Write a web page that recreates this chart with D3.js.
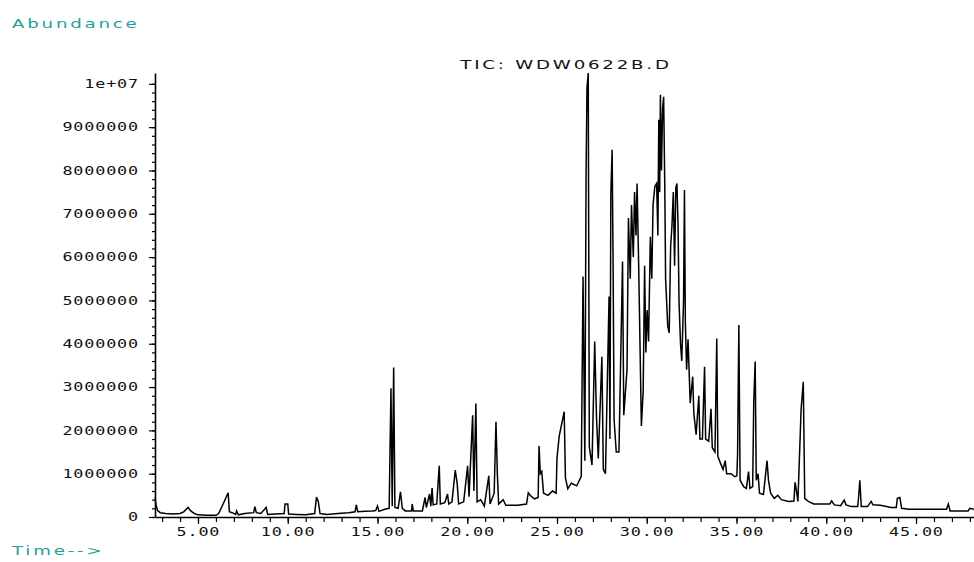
<!DOCTYPE html>
<html>
<head>
<meta charset="utf-8">
<script src="https://cdn.jsdelivr.net/npm/d3@7"></script>
<style>
  body { margin: 0; background: #fff; }
</style>
</head>
<body>
<div class="tic"></div>
<script>
const title = "TIC: WDW0622B.D"
const yTitle = "Abundance"
const xTitle = "Time-->"

const xMajorTicks = [5, 10, 15, 20, 25, 30, 35, 40, 45]
const xMinorTicks = d3.range(3, 49, 1)
const yMajorTicks = [0, 1e6, 2e6, 3e6, 4e6, 5e6, 6e6, 7e6, 8e6, 9e6, 1e7]
const yMinorTicks = d3.range(0, 1.02e7, 2e5)

// retention time (min), abundance
const ticTrace = [
  [2.61, 0.45e6], [2.65, 0.30e6], [2.75, 0.15e6], [2.90, 0.10e6], [3.20, 0.08e6], [3.60, 0.07e6],
  [4.00, 0.08e6], [4.20, 0.12e6], [4.45, 0.22e6], [4.60, 0.14e6], [4.80, 0.08e6], [5.00, 0.05e6],
  [5.50, 0.04e6], [6.00, 0.04e6], [6.15, 0.08e6], [6.40, 0.30e6], [6.68, 0.56e6], [6.75, 0.12e6],
  [6.90, 0.10e6], [7.10, 0.06e6], [7.15, 0.14e6], [7.25, 0.05e6], [7.60, 0.08e6], [8.10, 0.10e6],
  [8.17, 0.24e6], [8.25, 0.10e6], [8.50, 0.08e6], [8.80, 0.22e6], [8.88, 0.06e6], [9.30, 0.07e6],
  [9.80, 0.08e6], [9.85, 0.30e6], [10.00, 0.30e6], [10.05, 0.07e6], [10.50, 0.06e6], [11.00, 0.05e6],
  [11.50, 0.08e6], [11.60, 0.46e6], [11.70, 0.36e6], [11.80, 0.08e6], [12.20, 0.06e6], [12.80, 0.08e6],
  [13.40, 0.10e6], [13.75, 0.12e6], [13.82, 0.28e6], [13.90, 0.12e6], [14.30, 0.13e6], [14.70, 0.14e6],
  [14.90, 0.15e6], [15.00, 0.25e6], [15.08, 0.13e6], [15.40, 0.18e6], [15.65, 0.20e6], [15.75, 2.97e6],
  [15.82, 0.25e6], [15.90, 3.45e6], [15.97, 0.22e6], [16.15, 0.20e6], [16.28, 0.58e6], [16.38, 0.20e6],
  [16.55, 0.14e6], [16.90, 0.14e6], [16.93, 0.30e6], [17.00, 0.14e6], [17.50, 0.14e6], [17.65, 0.45e6],
  [17.72, 0.22e6], [17.90, 0.53e6], [17.97, 0.25e6], [18.04, 0.67e6], [18.10, 0.28e6], [18.30, 0.30e6],
  [18.44, 1.18e6], [18.50, 0.30e6], [18.75, 0.33e6], [18.90, 0.53e6], [18.97, 0.30e6], [19.15, 0.35e6],
  [19.33, 1.08e6], [19.44, 0.77e6], [19.52, 0.30e6], [19.80, 0.35e6], [20.02, 1.18e6], [20.10, 0.47e6],
  [20.30, 2.35e6], [20.37, 0.60e6], [20.48, 2.62e6], [20.55, 0.35e6], [20.75, 0.40e6], [20.95, 0.25e6],
  [21.20, 0.95e6], [21.27, 0.30e6], [21.50, 0.55e6], [21.60, 2.20e6], [21.68, 0.95e6], [21.75, 0.30e6],
  [22.00, 0.40e6], [22.15, 0.27e6], [22.80, 0.27e6], [23.30, 0.30e6], [23.40, 0.56e6], [23.55, 0.48e6],
  [23.75, 0.42e6], [23.95, 0.45e6], [24.00, 1.64e6], [24.07, 1.00e6], [24.15, 1.05e6], [24.25, 0.55e6],
  [24.50, 0.50e6], [24.75, 0.60e6], [24.95, 0.55e6], [25.00, 1.36e6], [25.12, 1.86e6], [25.40, 2.43e6],
  [25.47, 0.90e6], [25.60, 0.65e6], [25.80, 0.78e6], [26.10, 0.72e6], [26.35, 0.94e6], [26.45, 5.55e6],
  [26.55, 1.30e6], [26.62, 7.94e6], [26.67, 9.90e6], [26.74, 10.25e6], [26.80, 1.62e6], [26.95, 1.20e6],
  [27.10, 4.05e6], [27.20, 2.30e6], [27.30, 1.35e6], [27.50, 3.70e6], [27.58, 1.10e6], [27.70, 1.00e6],
  [27.90, 5.09e6], [27.95, 1.80e6], [28.00, 7.47e6], [28.07, 8.48e6], [28.12, 6.10e6], [28.18, 2.25e6],
  [28.30, 1.50e6], [28.45, 1.50e6], [28.65, 5.90e6], [28.72, 2.35e6], [28.90, 3.40e6], [28.98, 6.90e6],
  [29.08, 5.50e6], [29.15, 7.20e6], [29.25, 6.00e6], [29.32, 7.50e6], [29.40, 6.50e6], [29.46, 7.70e6],
  [29.55, 5.80e6], [29.70, 2.10e6], [29.80, 2.90e6], [29.88, 5.80e6], [29.95, 3.80e6], [30.02, 4.78e6],
  [30.10, 4.05e6], [30.20, 6.47e6], [30.28, 5.50e6], [30.35, 7.20e6], [30.45, 7.63e6], [30.55, 7.70e6],
  [30.62, 6.50e6], [30.67, 9.17e6], [30.72, 7.50e6], [30.76, 9.75e6], [30.82, 8.00e6], [30.88, 9.40e6],
  [30.94, 9.70e6], [31.00, 7.78e6], [31.05, 5.50e6], [31.17, 4.40e6], [31.25, 4.25e6], [31.33, 6.24e6],
  [31.40, 6.70e6], [31.48, 7.50e6], [31.55, 5.80e6], [31.62, 7.60e6], [31.68, 7.70e6], [31.74, 6.80e6],
  [31.80, 4.94e6], [31.88, 4.00e6], [31.95, 3.60e6], [32.05, 5.00e6], [32.10, 7.55e6], [32.15, 4.50e6],
  [32.22, 3.40e6], [32.30, 4.10e6], [32.42, 2.63e6], [32.56, 3.24e6], [32.62, 2.40e6], [32.75, 1.90e6],
  [32.90, 2.80e6], [32.96, 1.80e6], [33.10, 1.80e6], [33.22, 3.47e6], [33.28, 1.80e6], [33.45, 1.75e6],
  [33.58, 2.50e6], [33.65, 1.60e6], [33.80, 1.50e6], [33.90, 4.12e6], [33.96, 1.40e6], [34.10, 1.25e6],
  [34.25, 1.10e6], [34.37, 1.30e6], [34.45, 1.00e6], [34.70, 1.00e6], [34.90, 0.93e6], [35.02, 0.95e6],
  [35.06, 1.46e6], [35.13, 4.43e6], [35.20, 0.85e6], [35.40, 0.70e6], [35.55, 0.66e6], [35.67, 1.05e6],
  [35.75, 0.66e6], [35.90, 0.70e6], [35.96, 2.66e6], [36.04, 3.59e6], [36.10, 0.85e6], [36.20, 1.00e6],
  [36.28, 0.55e6], [36.50, 0.52e6], [36.70, 1.30e6], [36.78, 0.85e6], [36.90, 0.55e6], [37.10, 0.43e6],
  [37.30, 0.50e6], [37.50, 0.40e6], [37.90, 0.36e6], [38.20, 0.37e6], [38.26, 0.80e6], [38.33, 0.63e6],
  [38.42, 0.36e6], [38.60, 2.50e6], [38.72, 3.12e6], [38.80, 0.43e6], [39.00, 0.36e6], [39.30, 0.30e6],
  [39.80, 0.30e6], [40.20, 0.30e6], [40.30, 0.37e6], [40.45, 0.28e6], [40.80, 0.26e6], [41.00, 0.39e6],
  [41.10, 0.28e6], [41.40, 0.24e6], [41.75, 0.24e6], [41.80, 0.45e6], [41.87, 0.85e6], [41.95, 0.24e6],
  [42.30, 0.24e6], [42.50, 0.36e6], [42.60, 0.28e6], [43.00, 0.27e6], [43.30, 0.25e6], [43.60, 0.22e6],
  [43.90, 0.22e6], [43.96, 0.43e6], [44.10, 0.45e6], [44.20, 0.20e6], [44.60, 0.18e6], [45.50, 0.18e6],
  [46.50, 0.18e6], [46.70, 0.18e6], [46.80, 0.30e6], [46.90, 0.14e6], [47.50, 0.14e6], [47.90, 0.14e6],
  [48.00, 0.20e6], [48.23, 0.18e6]
]

const margin = { top: 73, right: 0, bottom: 45, left: 155 },
    width = 974 - margin.left - margin.right,
    height = 562 - margin.top - margin.bottom

const svg = d3.select(".tic")
    .append("svg")
    .attr("width", 974)
    .attr("height", 562)

const g = svg.append("g")
    .attr("transform", "translate(" + margin.left + "," + margin.top + ")")

const x = d3.scaleLinear().domain([2.605, 48.23]).range([0, width])
const y = d3.scaleLinear().domain([0, 1.025e7]).range([height, 0])

const stretch = 1.4  // the original glyphs are wide, so text is stretched horizontally
const tickFont = "'DejaVu Sans Mono', monospace"
const labelFont = "'DejaVu Sans', sans-serif"
const teal = "#2a9e9b"

// minor ticks first, then the major ones with their axis lines
g.append("g")
    .attr("transform", "translate(0," + height + ")")
    .call(d3.axisBottom(x).tickValues(xMinorTicks).tickSize(5).tickFormat(""))
    .call(a => a.select(".domain").remove())

g.append("g")
    .call(d3.axisLeft(y).tickValues(yMinorTicks).tickSize(3).tickFormat(""))
    .call(a => a.select(".domain").remove())

g.append("g")
    .attr("transform", "translate(0," + height + ")")
    .call(d3.axisBottom(x).tickValues(xMajorTicks).tickSize(7).tickSizeOuter(0).tickFormat(""))

g.append("g")
    .call(d3.axisLeft(y).tickValues(yMajorTicks).tickSize(6).tickSizeOuter(0).tickFormat(""))

g.selectAll(".tick line").attr("stroke", "#000").attr("stroke-width", 1.2)
g.selectAll(".domain").attr("stroke", "#000").attr("stroke-width", 1.6)

// tick labels, drawn stretched
const fmtY = d => d === 1e7 ? "1e+07" : d3.format("d")(d)

svg.selectAll("text.ylab")
    .data(yMajorTicks)
    .join("text")
    .attr("class", "ylab")
    .attr("transform", `scale(${stretch},1)`)
    .attr("x", 139 / stretch)
    .attr("y", d => margin.top + y(d))
    .attr("dy", "0.35em")
    .attr("text-anchor", "end")
    .style("font-family", tickFont)
    .style("font-size", "12px")
    .style("letter-spacing", "0.6px")
    .attr("fill", "#111")
    .text(fmtY)

svg.selectAll("text.xlab")
    .data(xMajorTicks)
    .join("text")
    .attr("class", "xlab")
    .attr("transform", `scale(${stretch},1)`)
    .attr("x", d => (margin.left + x(d)) / stretch + 0.3)
    .attr("y", 536)
    .attr("text-anchor", "middle")
    .style("font-family", tickFont)
    .style("font-size", "12px")
    .style("letter-spacing", "0.6px")
    .attr("fill", "#111")
    .text(d3.format(".2f"))

// trace
g.append("path")
    .datum(ticTrace)
    .attr("fill", "none")
    .attr("stroke", "#000")
    .attr("stroke-width", 1.5)
    .attr("stroke-linejoin", "miter")
    .attr("d", d3.line()
        .x(d => x(d[0]))
        .y(d => y(d[1]))
    )

function stretchedText(txt, left, baseline, color, anchor) {
    svg.append("text")
        .attr("transform", `scale(${stretch},1)`)
        .attr("x", left / stretch)
        .attr("y", baseline)
        .attr("text-anchor", anchor)
        .style("font-family", labelFont)
        .style("font-size", "13px")
        .style("letter-spacing", "2px")
        .attr("fill", color)
        .text(txt)
}

stretchedText(title, 566, 69.5, "#111", "middle")
stretchedText(yTitle, 12, 28, teal, "start")
stretchedText(xTitle, 12, 555, teal, "start")
</script>
</body>
</html>
